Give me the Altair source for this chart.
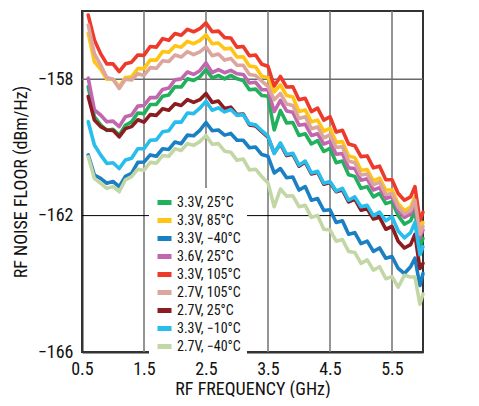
import altair as alt
import pandas as pd

freq = [0.6, 0.7, 0.8, 0.9, 1.0, 1.1, 1.2, 1.3, 1.4, 1.5, 1.6, 1.7, 1.8, 1.9, 2.0,
        2.1, 2.2, 2.3, 2.4, 2.5, 2.6, 2.7, 2.8, 2.9, 3.0, 3.1, 3.2, 3.3, 3.4, 3.5,
        3.6, 3.7, 3.8, 3.9, 4.0, 4.1, 4.2, 4.3, 4.4, 4.5, 4.6, 4.7, 4.8, 4.9, 5.0,
        5.1, 5.2, 5.3, 5.4, 5.5, 5.6, 5.7, 5.8, 5.87, 5.95, 6.0]

v33_25 = [-158.22, -159.10, -159.34, -159.50, -159.47, -159.64, -159.35, -159.25, -158.99, -159.01,
          -158.74, -158.74, -158.50, -158.46, -158.22, -158.23, -157.99, -158.04, -157.93, -157.72,
          -157.96, -157.89, -157.99, -157.89, -157.99, -158.04, -158.31, -158.29, -158.48, -158.50,
          -159.49, -158.92, -159.28, -159.27, -159.65, -159.60, -159.90, -159.80, -160.12, -160.03,
          -160.45, -160.40, -160.80, -160.85, -161.20, -161.15, -161.45, -161.35, -161.65, -161.59,
          -162.00, -162.25, -162.15, -161.85, -162.90, -162.67]
v33_85 = [-156.65, -157.49, -157.70, -158.00, -158.00, -158.22, -157.95, -157.93, -157.69, -157.69,
          -157.44, -157.44, -157.19, -157.21, -157.02, -157.06, -156.89, -156.96, -156.87, -156.70,
          -156.96, -156.94, -157.11, -157.09, -157.35, -157.34, -157.61, -157.64, -157.91, -157.96,
          -158.37, -158.17, -158.48, -158.52, -158.95, -158.90, -159.25, -159.20, -159.52, -159.44,
          -159.85, -159.83, -160.25, -160.30, -160.67, -160.65, -160.98, -160.90, -161.25, -161.25,
          -161.65, -161.85, -161.75, -161.45, -162.45, -162.20]
v33_m40 = [-160.22, -160.81, -160.91, -161.05, -161.00, -161.15, -160.85, -160.76, -160.44, -160.43,
           -160.22, -160.26, -160.04, -160.06, -159.84, -159.89, -159.64, -159.66, -159.50, -159.27,
           -159.51, -159.49, -159.64, -159.59, -159.79, -159.79, -160.01, -159.99, -160.21, -160.26,
           -160.75, -160.62, -160.89, -160.87, -161.25, -161.15, -161.55, -161.50, -161.85, -161.83,
           -162.20, -162.15, -162.55, -162.50, -162.82, -162.75, -163.05, -162.95, -163.25, -163.20,
           -163.55, -163.70, -163.50, -163.25, -164.05, -163.70]
v36_25 = [-157.97, -158.90, -159.05, -159.25, -159.23, -159.39, -159.10, -159.05, -158.79, -158.77,
          -158.54, -158.54, -158.30, -158.26, -158.02, -157.99, -157.79, -157.86, -157.75, -157.52,
          -157.81, -157.72, -157.81, -157.74, -157.84, -157.86, -158.11, -158.09, -158.31, -158.31,
          -158.95, -158.62, -158.93, -158.97, -159.35, -159.32, -159.65, -159.60, -159.90, -159.83,
          -160.20, -160.18, -160.60, -160.62, -160.96, -160.92, -161.25, -161.18, -161.50, -161.44,
          -161.85, -162.05, -161.95, -161.65, -162.65, -162.42]
v33_105 = [-156.12, -156.85, -157.25, -157.55, -157.55, -157.78, -157.55, -157.50, -157.29, -157.30,
           -157.04, -157.06, -156.81, -156.86, -156.66, -156.71, -156.54, -156.61, -156.52, -156.35,
           -156.61, -156.59, -156.78, -156.79, -157.06, -157.04, -157.31, -157.29, -157.56, -157.62,
           -158.20, -157.92, -158.23, -158.22, -158.60, -158.56, -158.95, -158.85, -159.20, -159.10,
           -159.55, -159.50, -159.90, -159.95, -160.27, -160.25, -160.60, -160.55, -160.95, -160.95,
           -161.35, -161.55, -161.45, -161.15, -162.15, -161.90]
v27_105 = [-156.41, -157.25, -157.58, -157.95, -158.00, -158.27, -158.00, -158.02, -157.84, -157.89,
           -157.66, -157.68, -157.46, -157.48, -157.29, -157.35, -157.19, -157.28, -157.20, -157.05,
           -157.31, -157.26, -157.44, -157.39, -157.59, -157.59, -157.86, -157.89, -158.06, -158.21,
           -158.60, -158.42, -158.73, -158.77, -159.15, -159.10, -159.45, -159.40, -159.72, -159.63,
           -160.00, -159.98, -160.40, -160.45, -160.81, -160.78, -161.10, -161.02, -161.38, -161.35,
           -161.75, -161.95, -161.85, -161.55, -162.55, -162.32]
v27_25 = [-158.51, -159.20, -159.39, -159.49, -159.50, -159.69, -159.45, -159.39, -159.19, -159.26,
          -159.04, -159.06, -158.87, -158.91, -158.72, -158.77, -158.60, -158.68, -158.60, -158.42,
          -158.68, -158.64, -158.86, -158.82, -159.04, -159.02, -159.34, -159.37, -159.54, -159.70,
          -160.16, -159.90, -160.24, -160.20, -160.55, -160.43, -160.78, -160.73, -161.08, -161.03,
          -161.30, -161.25, -161.60, -161.52, -161.84, -161.80, -162.10, -162.05, -162.40, -162.32,
          -162.75, -162.95, -162.85, -162.55, -163.55, -163.40]
v33_m10 = [-159.25, -159.93, -160.22, -160.47, -160.45, -160.62, -160.37, -160.32, -160.04, -160.04,
           -159.79, -159.78, -159.54, -159.51, -159.26, -159.26, -158.99, -159.01, -158.85, -158.65,
           -158.91, -158.84, -158.96, -158.89, -159.06, -159.04, -159.31, -159.34, -159.51, -159.67,
           -160.18, -159.87, -160.21, -160.17, -160.52, -160.40, -160.75, -160.70, -161.05, -161.00,
           -161.28, -161.20, -161.55, -161.45, -161.74, -161.70, -162.00, -161.90, -162.15, -162.03,
           -162.45, -162.65, -162.50, -162.20, -163.15, -162.91]
v27_m40 = [-160.27, -160.91, -161.05, -161.20, -161.15, -161.30, -160.95, -160.86, -160.64, -160.67,
           -160.44, -160.46, -160.24, -160.26, -160.04, -160.09, -159.89, -159.94, -159.83, -159.65,
           -159.91, -159.89, -160.11, -160.14, -160.38, -160.34, -160.66, -160.64, -160.86, -161.04,
           -161.74, -161.22, -161.43, -161.42, -161.74, -161.70, -162.05, -162.00, -162.40, -162.42,
           -162.75, -162.70, -163.05, -163.08, -163.40, -163.30, -163.60, -163.50, -163.85, -163.79,
           -164.10, -163.75, -163.80, -163.80, -164.60, -164.30]

series_names = ["3.3V, 25°C", "3.3V, 85°C", "3.3V, −40°C", "3.6V, 25°C", "3.3V, 105°C",
                "2.7V, 105°C", "2.7V, 25°C", "3.3V, −10°C", "2.7V, −40°C"]
series_values = [v33_25, v33_85, v33_m40, v36_25, v33_105, v27_105, v27_25, v33_m10, v27_m40]
series_colors = ["#21b05c", "#ffc414", "#1b7fc3", "#c067ae", "#ee3a2b",
                 "#dca69f", "#8c1c20", "#27bdec", "#c3d7a6"]

x_ticks = [0.5, 1.5, 2.5, 3.5, 4.5, 5.5]
y_ticks = [-166, -162, -158]
v_grid = [1.5, 2.5, 3.5, 4.5, 5.5]

rows = []
for i, (name, vals) in enumerate(zip(series_names, series_values)):
    for f, v in zip(freq, vals):
        rows.append({"series": name, "order": i, "freq": f, "noise": v})
df = pd.DataFrame(rows)

FONT = "Liberation Sans Narrow, Roboto Condensed, Liberation Sans, sans-serif"

xs = alt.Scale(domain=[0.5, 6.0], nice=False, zero=False)
ys = alt.Scale(domain=[-166, -156], nice=False, zero=False)

vgrid = alt.Chart(pd.DataFrame({"g": v_grid})).mark_rule(color="#7a7a7a", strokeWidth=1.6).encode(
    x=alt.X("g:Q", scale=xs))
hgrid1 = alt.Chart(pd.DataFrame({"g": [-158]})).mark_rule(color="#6a6a6a", strokeWidth=1.6).encode(
    y=alt.Y("g:Q", scale=ys))
hgrid2 = alt.Chart(pd.DataFrame({"g": [-162]})).mark_rule(color="#000000", strokeWidth=1).encode(
    y=alt.Y("g:Q", scale=ys))

lines = alt.Chart(df).mark_line(strokeWidth=3.6, strokeJoin="round", strokeCap="round").encode(
    x=alt.X("freq:Q", scale=xs,
            axis=alt.Axis(values=x_ticks, format=".1f", title="RF FREQUENCY (GHz)",
                          ticks=False, labelPadding=8, titlePadding=2, grid=False,
                          labelFlush=False)),
    y=alt.Y("noise:Q", scale=ys,
            axis=alt.Axis(values=y_ticks, format="d", title="RF NOISE FLOOR (dBm/Hz)",
                          ticks=False, labelPadding=9, titlePadding=7, grid=False,
                          labelFlush=False)),
    color=alt.Color("series:N",
                    scale=alt.Scale(domain=series_names, range=series_colors),
                    sort=series_names,
                    legend=alt.Legend(title=None, orient="none", legendX=67, legendY=177,
                                      fillColor="white", padding=6,
                                      symbolType="stroke", symbolSize=196, symbolStrokeWidth=5,
                                      labelFontSize=14, labelFont=FONT, labelColor="#111",
                                      labelOffset=3, rowPadding=0, clipHeight=17.2)),
    order=alt.Order("order:Q"),
    detail="series:N",
)

chart = alt.layer(vgrid, hgrid1, hgrid2, lines).properties(
    width=341, height=341,
    background="white",
    autosize=alt.AutoSizeParams(type="none"),
    padding={"left": 74, "top": 3, "right": 48, "bottom": 46},
).configure_view(stroke="#333333", strokeWidth=2).configure_axis(
    labelFont=FONT, titleFont=FONT, labelFontSize=18, titleFontSize=18,
    labelColor="#111", titleColor="#111", titleFontWeight="normal",
    domainColor="#333333", domainWidth=2,
)

chart.save("out.html", embed_options={"renderer": "svg", "actions": False})
